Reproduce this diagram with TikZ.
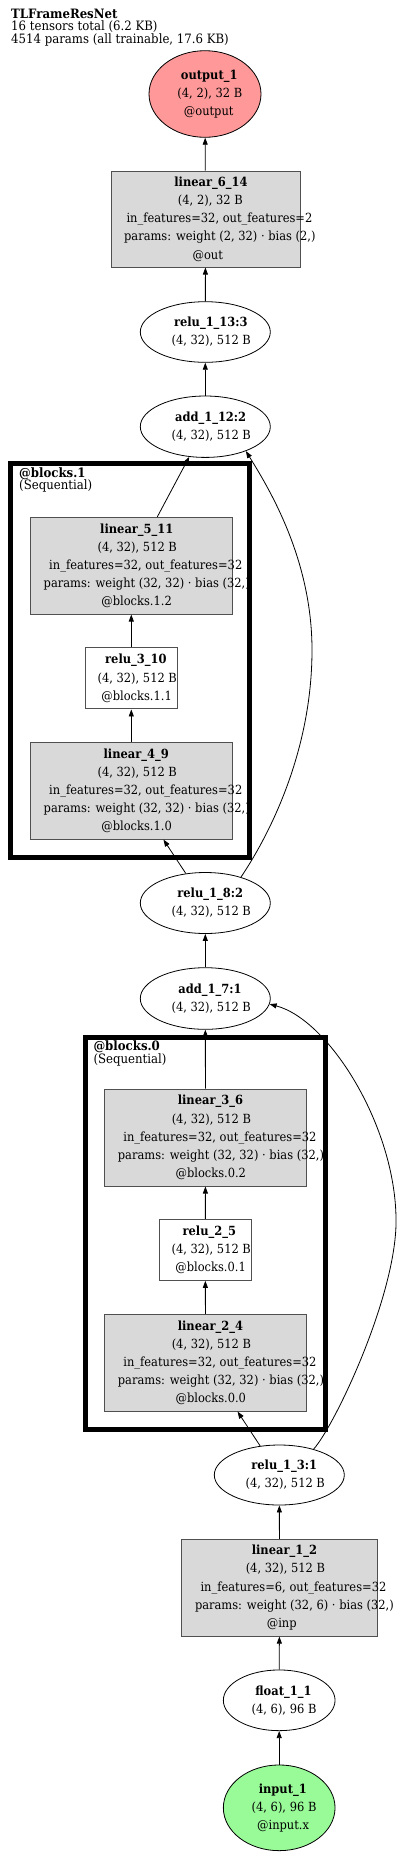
\documentclass[tikz,border=0pt]{standalone}
\usepackage{fontspec}
\setmainfont{DejaVu Serif}[FakeStretch=0.91]
\usetikzlibrary{shapes.geometric,arrows.meta}
\definecolor{outfill}{RGB}{255,153,153}
\definecolor{infill}{RGB}{152,251,152}
\definecolor{boxfill}{RGB}{217,217,217}
\definecolor{boxline}{RGB}{80,80,80}
\newcommand\gl[1]{\setbox0=\hbox{#1}\hspace*{0.15\wd0}\box0}
\newcommand\gb[1]{\gl{\bfseries #1}}
\tikzset{
  txt/.style={align=center,font=\fontsize{12.6}{18.2}\selectfont,inner sep=0pt},
  lbl/.style={font=\fontsize{12.9}{12.5}\selectfont,inner sep=0pt,anchor=base west},
  ell/.style={ellipse,draw=black,line width=0.8pt,inner sep=0pt,fill=white},
  gbox/.style={rectangle,draw=boxline,line width=1pt,fill=boxfill,inner sep=0pt},
  wbox/.style={rectangle,draw=boxline,line width=1pt,fill=white,inner sep=0pt},
  conn/.style={-{Triangle[length=7pt,width=5pt]},line width=0.8pt},
  clus/.style={draw=black,line width=5pt},
}
\begin{document}
\begin{tikzpicture}[x=1pt,y=-1pt]
\fill[white] (0,0) rectangle (400,1856);
\useasboundingbox (0,0) rectangle (400,1856);

% title
\node[lbl] (title) at (11,18) {\bfseries TLFrameResNet};
\node[lbl] (info1) at (11,30.5) {16 tensors total (6.2 KB)};
\node[lbl] (info2) at (11,43) {4514 params (all trainable, 17.6 KB)};

% nodes
\node[ell,fill=outfill,minimum width=112,minimum height=86.6,
  label={[txt]center:{\gb{output\_1}\\\gl{(4, 2), 32 B}\\\gl{@output}}}] (out1) at (205,94) {};
\node[gbox,minimum width=189,minimum height=96,
  label={[txt]center:{\gb{linear\_6\_14}\\\gl{(4, 2), 32 B}\\\gl{in\_features=32, out\_features=2}\\\gl{params: weight (2, 32) · bias (2,)}\\\gl{@out}}}] (lin6) at (205.5,219) {};
\node[ell,minimum width=130,minimum height=60.6,
  label={[txt]center:{\gb{relu\_1\_13:3}\\\gl{(4, 32), 512 B}}}] (relu13) at (205.3,332) {};
\node[ell,minimum width=130,minimum height=61.4,
  label={[txt]center:{\gb{add\_1\_12:2}\\\gl{(4, 32), 512 B}}}] (add12) at (205.3,426.7) {};

\node[gbox,minimum width=202,minimum height=96.7,
  label={[txt]center:{\gb{linear\_5\_11}\\\gl{(4, 32), 512 B}\\\gl{in\_features=32, out\_features=32}\\\gl{params: weight (32, 32) · bias (32,)}\\\gl{@blocks.1.2}}}] (lin5) at (131.3,565.7) {};
\node[wbox,minimum width=92,minimum height=61.3,
  label={[txt]center:{\gb{relu\_3\_10}\\\gl{(4, 32), 512 B}\\\gl{@blocks.1.1}}}] (relu310) at (131.3,678.3) {};
\node[gbox,minimum width=202,minimum height=96.7,
  label={[txt]center:{\gb{linear\_4\_9}\\\gl{(4, 32), 512 B}\\\gl{in\_features=32, out\_features=32}\\\gl{params: weight (32, 32) · bias (32,)}\\\gl{@blocks.1.0}}}] (lin4) at (131.3,790.7) {};

\node[ell,minimum width=130,minimum height=61,
  label={[txt]center:{\gb{relu\_1\_8:2}\\\gl{(4, 32), 512 B}}}] (relu8) at (205.3,903) {};
\node[ell,minimum width=130,minimum height=61.6,
  label={[txt]center:{\gb{add\_1\_7:1}\\\gl{(4, 32), 512 B}}}] (add7) at (205.3,998.5) {};

\node[gbox,minimum width=202.4,minimum height=97,
  label={[txt]center:{\gb{linear\_3\_6}\\\gl{(4, 32), 512 B}\\\gl{in\_features=32, out\_features=32}\\\gl{params: weight (32, 32) · bias (32,)}\\\gl{@blocks.0.2}}}] (lin3) at (205.5,1137.5) {};
\node[wbox,minimum width=92,minimum height=61,
  label={[txt]center:{\gb{relu\_2\_5}\\\gl{(4, 32), 512 B}\\\gl{@blocks.0.1}}}] (relu25) at (205.3,1249.8) {};
\node[gbox,minimum width=202.4,minimum height=96.7,
  label={[txt]center:{\gb{linear\_2\_4}\\\gl{(4, 32), 512 B}\\\gl{in\_features=32, out\_features=32}\\\gl{params: weight (32, 32) · bias (32,)}\\\gl{@blocks.0.0}}}] (lin2) at (205.5,1362.7) {};

\node[ell,minimum width=130,minimum height=60,
  label={[txt]center:{\gb{relu\_1\_3:1}\\\gl{(4, 32), 512 B}}}] (relu3) at (279.3,1475) {};
\node[gbox,minimum width=195.6,minimum height=96.7,
  label={[txt]center:{\gb{linear\_1\_2}\\\gl{(4, 32), 512 B}\\\gl{in\_features=6, out\_features=32}\\\gl{params: weight (32, 6) · bias (32,)}\\\gl{@inp}}}] (lin1) at (279.5,1587.7) {};
\node[ell,minimum width=111.7,minimum height=60.7,
  label={[txt]center:{\gb{float\_1\_1}\\\gl{(4, 6), 96 B}}}] (float) at (279.2,1700.3) {};
\node[ell,fill=infill,minimum width=111.7,minimum height=85.7,
  label={[txt]center:{\gb{input\_1}\\\gl{(4, 6), 96 B}\\\gl{@input.x}}}] (input) at (279.2,1807.8) {};

% clusters (drawn over node text)
\draw[clus] (10.8,463.5) rectangle (249.5,857);
\node[lbl] (c1a) at (19,477) {\bfseries @blocks.1};
\node[lbl] (c1b) at (19,489.5) {(Sequential)};
\draw[clus] (85.7,1037) rectangle (325.2,1429);
\node[lbl] (c0a) at (93.3,1050.5) {\bfseries @blocks.0};
\node[lbl] (c0b) at (93.3,1063) {(Sequential)};

% edges
\draw[conn] (lin6) -- (out1);
\draw[conn] (relu13) -- (lin6);
\draw[conn] (add12) -- (relu13);
\draw[conn] (lin5) -- (add12);
\draw[conn] (relu310) -- (lin5);
\draw[conn] (lin4) -- (relu310);
\draw[conn] (relu8) -- (lin4);
\draw[conn] (relu8.36) .. controls (262,846) and (312,760) .. (312,650)
   .. controls (312,560) and (270,490) .. (add12.-31);
\draw[conn] (add7) -- (relu8);
\draw[conn] (lin3) -- (add7);
\draw[conn] (relu25) -- (lin3);
\draw[conn] (lin2) -- (relu25);
\draw[conn] (relu3) -- (lin2);
\draw[conn] (relu3.37) .. controls (335,1425) and (394,1300) .. (396,1225)
   .. controls (398,1130) and (330,1020) .. (add7.-5);
\draw[conn] (lin1) -- (relu3);
\draw[conn] (float) -- (lin1);
\draw[conn] (input) -- (float);
\end{tikzpicture}
\end{document}
